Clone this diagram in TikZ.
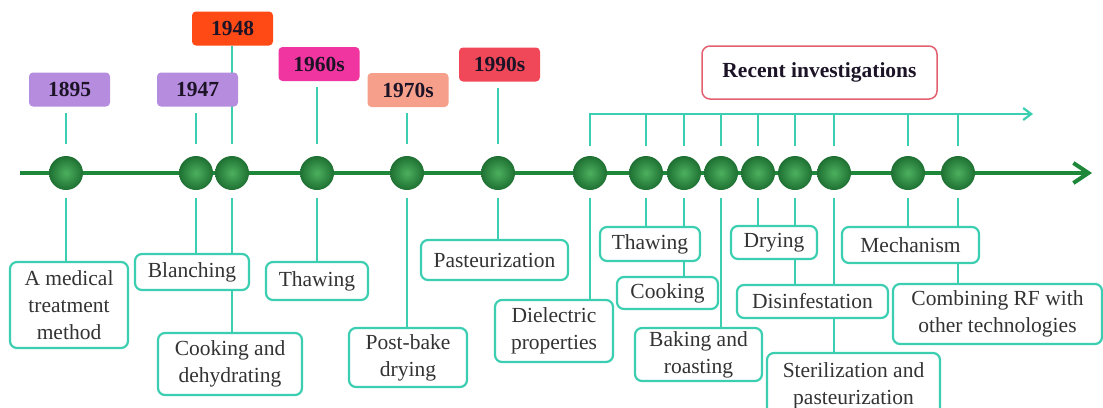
\documentclass[tikz,border=0pt]{standalone}
\usepackage{fontspec}
\setmainfont{Liberation Serif}
\usepackage{xcolor}
\usetikzlibrary{arrows.meta,calc,backgrounds}

\definecolor{tealline}{RGB}{60,206,176}
\definecolor{axisgreen}{RGB}{30,135,58}
\definecolor{dotlight}{RGB}{76,176,94}
\definecolor{dotdark}{RGB}{30,112,50}
\definecolor{lavender}{RGB}{182,140,222}
\definecolor{redorange}{RGB}{255,74,22}
\definecolor{hotpink}{RGB}{240,52,160}
\definecolor{salmon}{RGB}{246,160,140}
\definecolor{rosered}{RGB}{240,72,88}
\definecolor{rosebox}{RGB}{226,96,112}
\definecolor{yeartext}{RGB}{28,20,38}

\begin{document}
\begin{tikzpicture}[x=1pt,y=-1pt,
    font=\fontsize{21.5}{27}\selectfont,
    dot/.style={circle,minimum size=34pt,inner sep=0pt,inner color=dotlight,outer color=dotdark},
    year/.style={rounded corners=4pt,minimum width=81pt,minimum height=34pt,inner sep=0pt,
        font=\fontsize{21.5}{27}\selectfont\bfseries,text=yeartext},
    event/.style={draw=tealline,line width=2.2pt,rounded corners=7pt,fill=white,
        align=center,inner sep=0pt,text=black!80},
    link/.style={draw=tealline,line width=2.2pt}]
    \useasboundingbox (0,0) rectangle (1103,407);

    % Timeline dots
    \coordinate (tstart) at (20,173);
    \coordinate (tend) at (1092,173);
    \node[dot] (d1895) at (66,173) {};
    \node[dot] (d1947) at (196,173) {};
    \node[dot] (d1948) at (232,173) {};
    \node[dot] (d1960) at (317,173) {};
    \node[dot] (d1970) at (407,173) {};
    \node[dot] (d1990) at (498,173) {};
    \foreach \n/\x in {r1/590,r2/646,r3/684,r4/721,r5/758,r6/795,r7/834,r8/908,r9/958}
        \node[dot] (\n) at (\x,173) {};

    % Years
    \node[year,fill=lavender] (y1895) at (69.5,89.5) {1895};
    \node[year,fill=redorange] (y1948) at (232.5,28.5) {1948};
    \node[year,fill=lavender] (y1947) at (197.5,89.5) {1947};
    \node[year,fill=hotpink] (y1960) at (319,64) {1960s};
    \node[year,fill=salmon] (y1970) at (408,90) {1970s};
    \node[year,fill=rosered] (y1990) at (499.5,64.5) {1990s};
    \node[draw=rosebox,line width=1.5pt,rounded corners=8pt,minimum width=235pt,minimum height=53pt,
        font=\fontsize{21.5}{27}\selectfont\bfseries,text=yeartext] (recent) at (819.5,72.5) {Recent investigations};
    \coordinate (rend) at (1033,114);

    % Applications
    \node[event,minimum width=118pt,minimum height=86pt] (med) at (69,305) {A medical\\treatment\\method};
    \node[event,minimum width=114pt,minimum height=36pt] (blanch) at (192,272) {Blanching};
    \node[event,minimum width=144pt,minimum height=62pt] (cookdehy) at (230,364) {Cooking and\\dehydrating};
    \node[event,minimum width=102pt,minimum height=38pt] (thaw) at (317,281) {Thawing};
    \node[event,minimum width=118pt,minimum height=59pt] (postbake) at (408,357.5) {Post-bake\\drying};
    \node[event,minimum width=147pt,minimum height=40pt] (past) at (494.5,260) {Pasteurization};
    \node[event,minimum width=118pt,minimum height=62pt] (diel) at (554,331) {Dielectric\\properties};
    \node[event,minimum width=100pt,minimum height=34pt] (thawb) at (650,244) {Thawing};
    \node[event,minimum width=101pt,minimum height=32pt] (cook) at (667.5,293) {Cooking};
    \node[event,minimum width=127pt,minimum height=53pt] (bake) at (698.5,354.5) {Baking and\\roasting};
    \node[event,minimum width=86pt,minimum height=33pt] (dry) at (774,242.5) {Drying};
    \node[event,minimum width=151pt,minimum height=33pt] (disinf) at (812.5,301.5) {Disinfestation};
    \node[event,minimum width=173pt,minimum height=65pt] (steril) at (853.5,385.5) {Sterilization and\\pasteurization};
    \node[event,minimum width=137pt,minimum height=36pt] (mech) at (910.5,245) {Mechanism};
    \node[event,minimum width=209pt,minimum height=60pt] (combine) at (997.5,314) {Combining RF with\\other technologies};

    \begin{pgfonlayer}{background}
    \draw[axisgreen,line width=4pt,-{Straight Barb[length=15pt,width=20pt]}] (tstart) -- (tend);
    % year stubs
    \draw[link] ($(y1895.south -| d1895)+(0,6)$) -- ($(d1895.north)+(0,-12)$);
    \draw[link] ($(y1947.south -| d1947)+(0,6)$) -- ($(d1947.north)+(0,-12)$);
    \draw[link] (y1948.south -| d1948) -- ($(d1948.north)+(0,-12)$);
    \draw[link] ($(y1960.south -| d1960)+(0,6)$) -- ($(d1960.north)+(0,-12)$);
    \draw[link] ($(y1970.south -| d1970)+(0,6)$) -- ($(d1970.north)+(0,-12)$);
    \draw[link] ($(y1990.south -| d1990)+(0,6)$) -- ($(d1990.north)+(0,-12)$);
    % recent bracket
    \draw[link,-{Straight Barb[length=8pt,width=12pt]}] ($(r1.north)+(0,-10)$) |- (rend);
    \foreach \n in {r2,r3,r4,r5,r6,r7,r8,r9}
        \draw[link] ($(\n.north)+(0,-10)$) -- (\n |- rend);
    % application stubs
    \draw[link] ($(d1895.south)+(0,8)$) -- (med.north -| d1895);
    \draw[link] ($(d1947.south)+(0,8)$) -- (blanch.north -| d1947);
    \draw[link] ($(d1948.south)+(0,8)$) -- (cookdehy.north -| d1948);
    \draw[link] ($(d1960.south)+(0,8)$) -- (thaw.north -| d1960);
    \draw[link] ($(d1970.south)+(0,8)$) -- (postbake.north -| d1970);
    \draw[link] ($(d1990.south)+(0,8)$) -- (past.north -| d1990);
    \draw[link] ($(r1.south)+(0,8)$) -- (diel.north -| r1);
    \draw[link] ($(r2.south)+(0,8)$) -- (thawb.north -| r2);
    \draw[link] ($(r3.south)+(0,8)$) -- (cook.north -| r3);
    \draw[link] ($(r4.south)+(0,8)$) -- (bake.north -| r4);
    \draw[link] ($(r5.south)+(0,8)$) -- (dry.north -| r5);
    \draw[link] ($(r6.south)+(0,8)$) -- (disinf.north -| r6);
    \draw[link] ($(r7.south)+(0,8)$) -- (steril.north -| r7);
    \draw[link] ($(r8.south)+(0,8)$) -- (mech.north -| r8);
    \draw[link] ($(r9.south)+(0,8)$) -- (combine.north -| r9);
    \end{pgfonlayer}
\end{tikzpicture}
\end{document}
